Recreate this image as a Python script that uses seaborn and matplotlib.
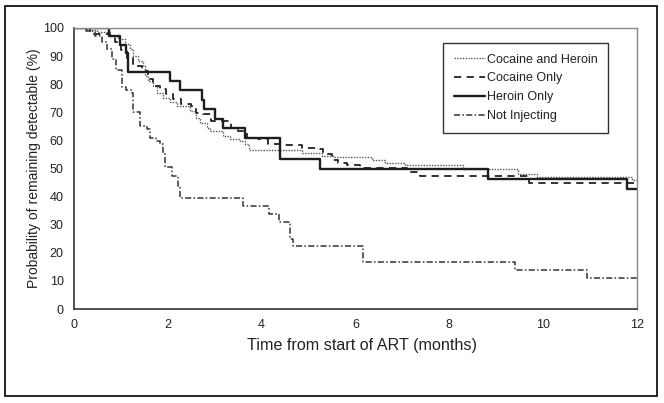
import matplotlib
matplotlib.use("Agg")
import matplotlib.pyplot as plt
from matplotlib.patches import Rectangle
import seaborn as sns
import pandas as pd

# ---- data (Kaplan-Meier step curves) ----
groups = ["Cocaine and Heroin", "Cocaine Only", "Heroin Only", "Not Injecting"]

coc_her_t = [0, 0.27, 0.5, 0.77, 0.94, 1.09, 1.19, 1.26, 1.37, 1.48, 1.51, 1.58, 1.69, 1.76,
             1.9, 2.05, 2.19, 2.47, 2.6, 2.68, 2.83, 2.9, 3.18, 3.32, 3.54, 3.65, 3.72, 4.85,
             5.28, 5.53, 6.35, 6.63, 7.06, 8.3, 9.47, 9.86, 11.9, 12]
coc_her_v = [100, 99.4, 98.6, 97, 96, 94.3, 92.5, 90, 88.3, 86.5, 83, 81.2, 79.4, 77,
             75.2, 73.5, 72.3, 70.5, 68.1, 66.3, 64.5, 63.3, 61.5, 60.4, 59.8, 58.6, 56.5, 55.6,
             54.4, 54.2, 53, 52, 51.2, 49.9, 48.2, 46.9, 45.8, 45.8]

coc_t = [0, 0.34, 0.77, 0.87, 1.0, 1.12, 1.26, 1.44, 1.58, 1.69, 1.83, 1.97, 2.12, 2.29,
         2.5, 2.61, 2.75, 2.93, 3.29, 3.35, 3.5, 3.68, 3.93, 4.14, 4.39, 4.85, 5.21, 5.3,
         5.49, 5.63, 5.81, 6.1, 7.09, 7.38, 9.69, 11.9, 12]
coc_v = [100, 98, 97.3, 94.9, 92, 89.5, 86.5, 84.8, 81.8, 79.4, 78.2, 76.4, 74.6, 72.9,
         72.3, 69.9, 69.3, 66.9, 66.3, 64.5, 63.3, 61, 60.4, 58.6, 58.2, 57.4, 56.8, 55,
         53.2, 52, 51.4, 50.2, 48.7, 47.5, 44.8, 44.8, 44.8]

her_t = [0, 0.75, 0.98, 1.1, 1.16, 2.05, 2.26, 2.72, 2.78, 3.0, 3.18, 3.64, 4.39, 5.24,
         8.83, 11.78, 12]
her_v = [100, 97, 94, 91, 84.5, 81.2, 78, 74.5, 71, 67.5, 64.5, 60.9, 53.5, 49.9,
         46.3, 42.8, 42.8]

notinj_t = [0, 0.25, 0.45, 0.6, 0.7, 0.8, 0.9, 1.02, 1.1, 1.23, 1.26, 1.41, 1.55, 1.62,
            1.75, 1.83, 1.9, 1.94, 2.08, 2.22, 2.26, 3.61, 4.16, 4.36, 4.6, 4.66, 6.17,
            9.39, 10.93, 12]
notinj_v = [100, 99, 97, 95, 92.5, 89, 85, 79, 78, 77, 70, 65, 64, 61,
            59.8, 58.6, 55, 50.4, 47.3, 43.7, 39.5, 36.8, 33.9, 30.8, 25, 22.5, 16.9,
            13.9, 11.2, 11.2]

x_ticks = [0, 2, 4, 6, 8, 10, 12]
y_ticks = [0, 10, 20, 30, 40, 50, 60, 70, 80, 90, 100]

series = {
    "Cocaine and Heroin": (coc_her_t, coc_her_v),
    "Cocaine Only": (coc_t, coc_v),
    "Heroin Only": (her_t, her_v),
    "Not Injecting": (notinj_t, notinj_v),
}

frames = []
for g in groups:
    t, v = series[g]
    frames.append(pd.DataFrame({"t": t, "v": v, "group": g}))
df = pd.concat(frames, ignore_index=True)

styles = {
    "Cocaine and Heroin": dict(color="#555555", lw=1.0, ls=(0, (1, 1))),
    "Cocaine Only": dict(color="#222222", lw=1.3, ls=(0, (4, 3))),
    "Heroin Only": dict(color="#1e1e1e", lw=1.7, ls="-"),
    "Not Injecting": dict(color="#333333", lw=1.1, ls=(0, (4, 1.5, 1, 1.5))),
}

sns.set_style("white")
plt.rcParams["font.family"] = ["Liberation Sans", "DejaVu Sans"]

fig = plt.figure(figsize=(6.64, 4.03), dpi=100)
ax = fig.add_axes([74 / 664, 1 - 309 / 403, (637 - 74) / 664, (309 - 28) / 403])

for g in groups:
    st = styles[g]
    sns.lineplot(data=df[df["group"] == g], x="t", y="v", ax=ax, estimator=None,
                 drawstyle="steps-post", color=st["color"], linewidth=st["lw"],
                 linestyle=st["ls"], label=g, sort=False)

ax.set_xlim(0, 12)
ax.set_ylim(0, 100)
ax.set_xticks(x_ticks)
ax.set_yticks(y_ticks)
ax.tick_params(axis="both", direction="inout", length=7, width=1, labelsize=9,
               colors="#222222", pad=4)
ax.set_xlabel("Time from start of ART (months)", fontsize=11.6, color="#222222", labelpad=5)
ax.xaxis.label.set_x(0.5 + 6.5 / 563)
ax.set_ylabel("Probability of remaining detectable (%)", fontsize=10, color="#222222",
              labelpad=1)

for side in ["left", "bottom"]:
    ax.spines[side].set_color("#333333")
    ax.spines[side].set_linewidth(1.2)
for side in ["top", "right"]:
    ax.spines[side].set_visible(True)
    ax.spines[side].set_color("#888888")
    ax.spines[side].set_linewidth(1.0)

leg = ax.legend(loc="upper right", bbox_to_anchor=(608 / 664, 1 - 43 / 403),
                bbox_transform=fig.transFigure, frameon=True, fancybox=False,
                fontsize=9, handlelength=2.5, handletextpad=0.15,
                borderpad=0.85, labelspacing=0.55, borderaxespad=0)
leg.get_frame().set_edgecolor("black")
leg.get_frame().set_linewidth(1.0)
for txt in leg.get_texts():
    txt.set_color("#222222")

fig.patches.append(Rectangle((5 / 664, 1 - 396 / 403), 652 / 664, 390 / 403,
                             transform=fig.transFigure, fill=False,
                             edgecolor="black", linewidth=1.2))

fig.savefig("out.png", dpi=100)
